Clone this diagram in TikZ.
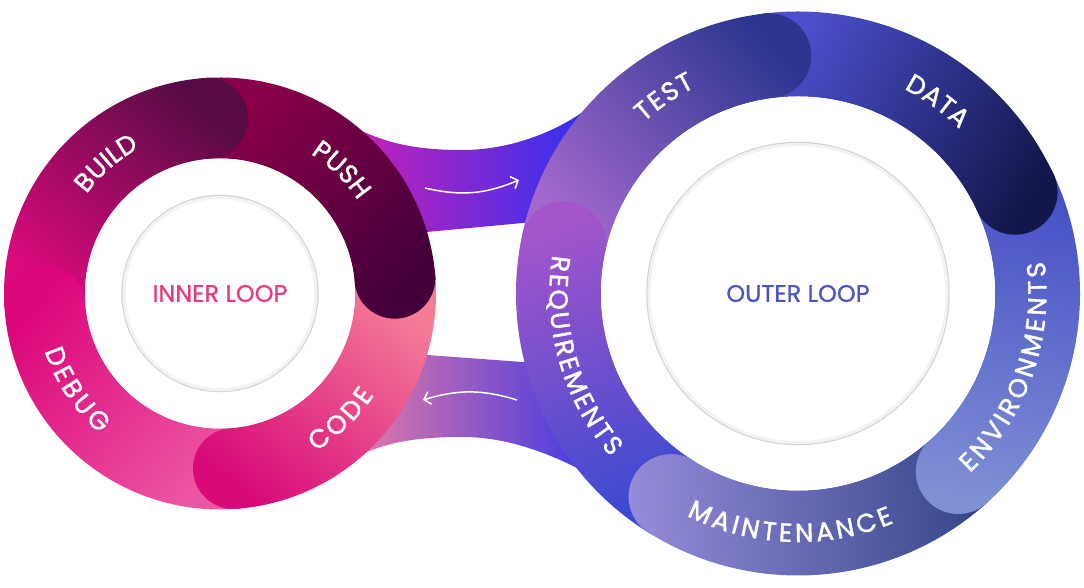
\documentclass[tikz,border=0pt]{standalone}
\usepackage{fontspec}
\newfontfamily\popfont{Poppins}[FakeBold=1.6]
\newfontfamily\popctr{Poppins}[FakeBold=0.9]
\usetikzlibrary{calc,decorations.text,arrows.meta}
% left ring colours
\definecolor{buildA}{HTML}{DA0A7C}\definecolor{buildB}{HTML}{560B44}
\definecolor{pushA}{HTML}{8C0049}\definecolor{pushB}{HTML}{44003B}
\definecolor{codeA}{HTML}{F47C98}\definecolor{codeB}{HTML}{D80A7A}
\definecolor{debugA}{HTML}{EC55A2}\definecolor{debugB}{HTML}{DC067B}
% right ring colours
\definecolor{testA}{HTML}{A268CC}\definecolor{testB}{HTML}{2C3690}
\definecolor{dataA}{HTML}{4B4FCC}\definecolor{dataB}{HTML}{13164A}
\definecolor{envA}{HTML}{4650C6}\definecolor{envB}{HTML}{7F90D4}
\definecolor{maintA}{HTML}{36468A}\definecolor{maintB}{HTML}{958CDA}
\definecolor{reqA}{HTML}{3C4AD0}\definecolor{reqB}{HTML}{A455CB}
% bridges
\definecolor{tbL}{HTML}{D41FB0}\definecolor{tbM}{HTML}{8A30D2}\definecolor{tbR}{HTML}{2233F8}
\definecolor{bbL}{HTML}{F27FA2}\definecolor{bbM}{HTML}{A654C8}\definecolor{bbR}{HTML}{3434E6}
\definecolor{innertxt}{HTML}{E93A80}\definecolor{outertxt}{HTML}{4B54C2}
\newcommand\lblfont{\popfont\fontsize{26}{26}\selectfont}
\newcommand\segpath[3]{($(#1)+(#2:\ringro)$) arc[start angle=#2, end angle=#3, radius=\ringro] arc[start angle=#3, end angle=#3-180, radius=\ringhw] arc[start angle=#3, end angle=#2, radius=\ringri] -- cycle}
\newcommand\ringseg[5]{\pgfmathsetmacro\segang{(#2+#3)/2-180}\shade[bottom color=#4, top color=#5, shading angle=\segang] \segpath{#1}{#2}{#3};}
\newcommand\ringcap[5]{\begin{scope}\clip ($(#1)+(#3:\ringrc)$) circle[radius=\ringhw]; \ringseg{#1}{#2}{#3}{#4}{#5}\end{scope}}
\tikzset{
  lab/.style={decorate, decoration={text along path, text={|\lblfont|#1}, text align=fit to path, text color=white}},
  flowarrow/.style={draw=white, line width=1.5pt, -{Straight Barb[length=6pt,width=13pt,line width=1.5pt]}},
  ctrcircle/.style={circle, fill=white, draw=black!17, line width=1.4pt, inner sep=0pt},
  ctrshadow/.style={draw=black!5, line width=3pt},
}
\begin{document}
\begin{tikzpicture}[x=1pt,y=1pt]
\useasboundingbox (0,0) rectangle (1084,587);
\coordinate (L) at (220,293.5);
\coordinate (R) at (798,293.5);
% bridges
\shade[left color=tbL, middle color=tbM, right color=tbR]
  (333,437) -- (363,455.4) .. controls (395,441) and (425,437) .. (463,437)
  .. controls (505,437) and (550,452) .. (583,475.2) -- (610,447) -- (610,372.2) -- (333,346.2) -- cycle;
\shade[left color=bbL, middle color=bbM, right color=bbR]
  (333,239) -- (610,218.5) -- (610,140) -- (577,119.1) .. controls (545,135) and (505,150) .. (463,150)
  .. controls (420,150) and (395,146) .. (367,135.2) -- (333,150) -- cycle;
\coordinate (ta) at (425,399); \coordinate (tb) at (519,407);
\draw[flowarrow] (ta) to[bend right=18] (tb);
\coordinate (ba) at (517,187); \coordinate (bb) at (423,187);
\draw[flowarrow] (ba) to[bend right=17] (bb);
% left ring
\def\ringri{135}\def\ringro{216}\def\ringhw{40.5}\def\ringrc{175.5}
\ringseg{L}{184}{94}{buildA}{buildB}
\ringseg{L}{94}{5}{pushA}{pushB}
\ringseg{L}{5}{-85.6}{codeA}{codeB}
\ringseg{L}{274.4}{184}{debugA}{debugB}
\ringcap{L}{184}{94}{buildA}{buildB}
\ringcap{L}{94}{5}{pushA}{pushB}
\ringcap{L}{5}{-85.6}{codeA}{codeB}
\fill[white] (L) circle[radius=\ringri];
\node[ctrcircle, minimum size=196pt, text=innertxt, font=\popctr\fontsize{24}{24}\selectfont] (inner) at (L) {INNER LOOP};
\draw[ctrshadow] (L) circle[radius=96];
\path[lab=BUILD] ($(L)+(143.3:166.5)$) arc[start angle=143.3,end angle=119,radius=166.5];
\path[lab=PUSH] ($(L)+(57:166.5)$) arc[start angle=57,end angle=34,radius=166.5];
\path[lab=CODE] ($(L)+(-58.8:184.5)$) arc[start angle=-58.8,end angle=-33.4,radius=184.5];
\path[lab=DEBUG] ($(L)+(198.2:184.5)$) arc[start angle=198.2,end angle=229.4,radius=184.5];
% right ring
\def\ringri{197}\def\ringro{282}\def\ringhw{42.5}\def\ringrc{239.5}
\ringseg{R}{168}{97}{testA}{testB}
\ringseg{R}{97}{25}{dataA}{dataB}
\ringseg{R}{25}{-48}{envA}{envB}
\ringseg{R}{-48}{-122}{maintA}{maintB}
\ringseg{R}{238}{168}{reqA}{reqB}
\ringcap{R}{168}{97}{testA}{testB}
\ringcap{R}{97}{25}{dataA}{dataB}
\ringcap{R}{25}{-48}{envA}{envB}
\ringcap{R}{-48}{-122}{maintA}{maintB}
\fill[white] (R) circle[radius=\ringri];
\node[ctrcircle, minimum size=302pt, text=outertxt, font=\popctr\fontsize{24}{24}\selectfont] (outer) at (R) {OUTER LOOP};
\draw[ctrshadow] (R) circle[radius=149];
\path[lab=TEST] ($(R)+(132:230.5)$) arc[start angle=132,end angle=116.5,radius=230.5];
\path[lab=DATA] ($(R)+(62.6:230.5)$) arc[start angle=62.6,end angle=45.5,radius=230.5];
\path[lab=ENVIRONMENTS] ($(R)+(-46.2:248.5)$) arc[start angle=-46.2,end angle=7.4,radius=248.5];
\path[lab=MAINTENANCE] ($(R)+(243.4:248.5)$) arc[start angle=243.4,end angle=292.7,radius=248.5];
\path[lab=REQUIREMENTS] ($(R)+(171.1:248.5)$) arc[start angle=171.1,end angle=221.1,radius=248.5];
\end{tikzpicture}
\end{document}
